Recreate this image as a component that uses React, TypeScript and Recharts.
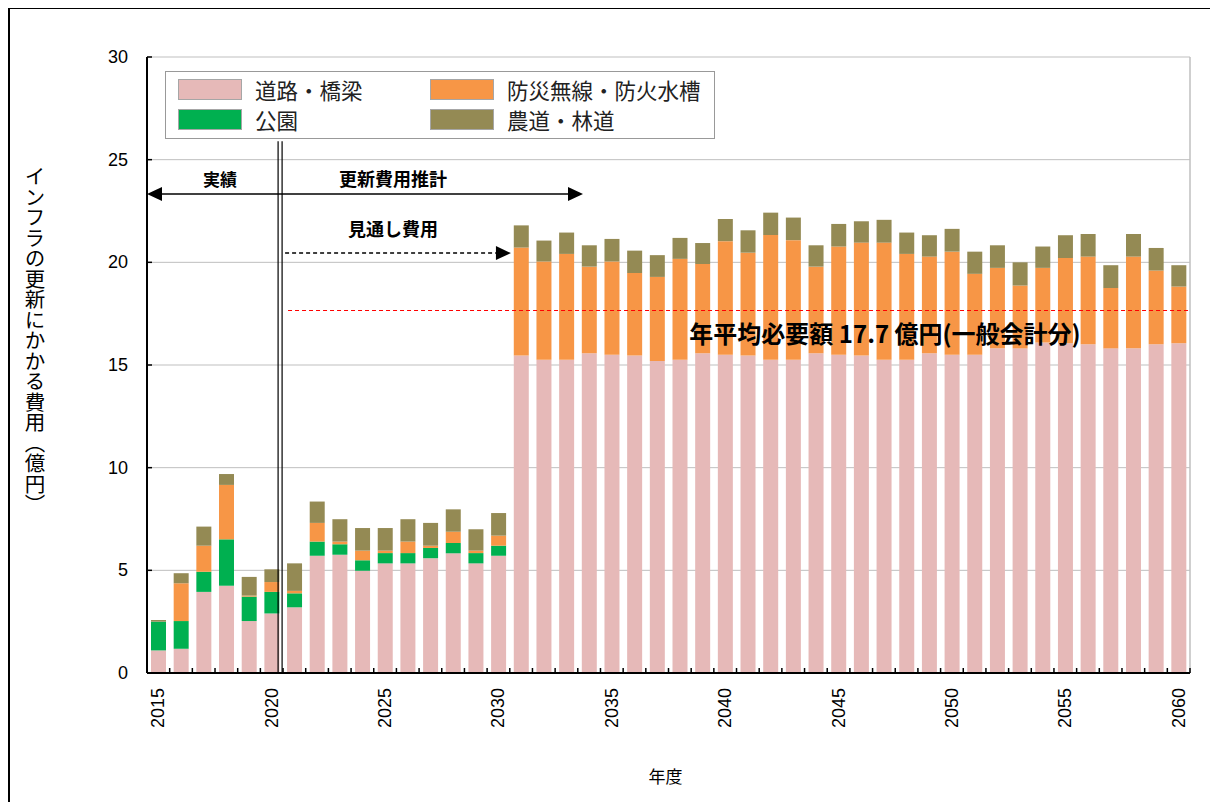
import React from 'react';
import {
  BarChart, Bar, XAxis, YAxis, CartesianGrid, Legend, ReferenceLine, ReferenceDot,
} from 'recharts';

const years = [
  '2015', '2016', '2017', '2018', '2019', '2020', '2021', '2022', '2023', '2024',
  '2025', '2026', '2027', '2028', '2029', '2030', '2031', '2032', '2033', '2034',
  '2035', '2036', '2037', '2038', '2039', '2040', '2041', '2042', '2043', '2044',
  '2045', '2046', '2047', '2048', '2049', '2050', '2051', '2052', '2053', '2054',
  '2055', '2056', '2057', '2058', '2059', '2060',
];

// 道路・橋梁
const road = [
  1.1, 1.18, 3.95, 4.25, 2.53, 2.9, 3.2, 5.71, 5.76, 4.98,
  5.34, 5.34, 5.59, 5.83, 5.34, 5.71, 15.46, 15.26, 15.26, 15.57,
  15.5, 15.46, 15.2, 15.26, 15.57, 15.5, 15.46, 15.26, 15.26, 15.57,
  15.5, 15.46, 15.26, 15.26, 15.57, 15.5, 15.5, 15.81, 15.81, 16.1,
  16.06, 16.01, 15.81, 15.81, 16.01, 16.06,
];

// 公園
const park = [
  1.4, 1.35, 0.98, 2.26, 1.19, 1.05, 0.68, 0.69, 0.51, 0.51,
  0.5, 0.5, 0.5, 0.5, 0.5, 0.49, 0, 0, 0, 0,
  0, 0, 0, 0, 0, 0, 0, 0, 0, 0,
  0, 0, 0, 0, 0, 0, 0, 0, 0, 0,
  0, 0, 0, 0, 0, 0,
];

// 防災無線・防火水槽
const disaster = [
  0, 1.84, 1.27, 2.65, 0.05, 0.48, 0.12, 0.91, 0.13, 0.47,
  0.12, 0.56, 0.11, 0.55, 0.12, 0.49, 5.26, 4.78, 5.15, 4.22,
  4.54, 4.02, 4.09, 4.91, 4.35, 5.53, 5.01, 6.07, 5.82, 4.22,
  5.27, 5.5, 5.7, 5.15, 4.71, 5.02, 3.94, 3.92, 3.06, 3.63,
  4.15, 4.27, 2.94, 4.47, 3.59, 2.76,
];

// 農道・林道
const farm = [
  0.08, 0.49, 0.93, 0.53, 0.91, 0.62, 1.34, 1.04, 1.09, 1.1,
  1.1, 1.09, 1.11, 1.09, 1.04, 1.1, 1.08, 1.02, 1.04, 1.04,
  1.1, 1.09, 1.06, 1.02, 1.02, 1.08, 1.09, 1.09, 1.1, 1.04,
  1.1, 1.04, 1.11, 1.04, 1.04, 1.11, 1.08, 1.1, 1.13, 1.04,
  1.11, 1.1, 1.11, 1.1, 1.1, 1.04,
];

const yTicks = [0, 5, 10, 15, 20, 25, 30];
const labelYears = ['2015', '2020', '2025', '2030', '2035', '2040', '2045', '2050', '2055', '2060'];
const average = 17.7;

const series = [
  { key: 'road', name: '道路・橋梁', color: '#E6B9B8' },
  { key: 'park', name: '公園', color: '#00B050' },
  { key: 'disaster', name: '防災無線・防火水槽', color: '#F79646' },
  { key: 'farm', name: '農道・林道', color: '#948A54' },
];

const data = years.map((year, i) => ({
  year,
  road: road[i],
  park: park[i],
  disaster: disaster[i],
  farm: farm[i],
}));

const JP = '"Noto Sans CJK JP", "Noto Sans", sans-serif';
const NUM = '"Liberation Sans", Arial, sans-serif';

const W = 1202;
const H = 794;
const LEFT = 139;
const RIGHT = 20;
const BAND = (W - LEFT - RIGHT) / years.length;

const XTick = (props: any) => {
  const { x, y, payload, index } = props;
  const half = BAND / 2;
  const last = index === years.length - 1;
  return (
    <g>
      <line x1={x - half} y1={y} x2={x - half} y2={y - 5} stroke="#000" strokeWidth={1.5} />
      {last && <line x1={x + half} y1={y} x2={x + half} y2={y - 5} stroke="#000" strokeWidth={1.5} />}
      {labelYears.includes(payload.value) && (
        <text
          transform={`translate(${x},${y + 15}) rotate(-90)`}
          textAnchor="end"
          dominantBaseline="central"
          fontSize={18}
          fontFamily={NUM}
          fill="#000"
        >
          {payload.value}
        </text>
      )}
    </g>
  );
};

const YTick = (props: any) => {
  const { x, y, payload } = props;
  const axisX = x + 19;
  return (
    <g>
      <line x1={axisX} y1={y} x2={axisX + 5} y2={y} stroke="#000" strokeWidth={1.5} />
      <text x={x} y={y} textAnchor="end" dominantBaseline="central" fontSize={18} fontFamily={NUM} fill="#000">
        {payload.value}
      </text>
    </g>
  );
};

// shifts are in fractions of one category band
const arrow = (s1: number, s2: number, dash?: string, both?: boolean) => (p: any) => {
  const x1 = p.x1 + s1 * BAND;
  const x2 = p.x2 + s2 * BAND;
  const { y1, y2 } = p;
  const head = 15;
  const hw = 7;
  return (
    <g>
      <line
        x1={both ? x1 + head : x1}
        y1={y1}
        x2={x2 - head}
        y2={y2}
        stroke="#000"
        strokeWidth={1.5}
        strokeDasharray={dash}
      />
      <polygon points={`${x2},${y2} ${x2 - head},${y2 - hw} ${x2 - head},${y2 + hw}`} fill="#000" />
      {both && <polygon points={`${x1},${y1} ${x1 + head},${y1 - hw} ${x1 + head},${y1 + hw}`} fill="#000" />}
    </g>
  );
};

const avgLine = (s1: number, s2: number) => (p: any) => {
  const y = Math.round(p.y1) + 0.5;
  return (
    <path
      d={`M${p.x1 + s1 * BAND},${y}H${p.x2 + s2 * BAND}`}
      fill="none"
      stroke="#FF0000"
      strokeWidth={1.2}
      strokeDasharray="4 3"
    />
  );
};

const doubleLine = (s: number) => (p: any) => {
  const x = p.x1 + s * BAND;
  return (
    <g>
      <line x1={x - 2} y1={p.y1} x2={x - 2} y2={p.y2} stroke="#000" strokeWidth={1.2} />
      <line x1={x + 2} y1={p.y1} x2={x + 2} y2={p.y2} stroke="#000" strokeWidth={1.2} />
    </g>
  );
};

const note = (text: string, size: number, s: number) => (p: any) => (
  <text
    x={p.cx + s * BAND}
    y={p.cy}
    textAnchor="middle"
    dominantBaseline="central"
    fontSize={size}
    fontWeight="bold"
    fontFamily={JP}
    fill="#000"
  >
    {text}
  </text>
);

const LegendBox = (props: any) => {
  const payload = [...(props.payload || [])].sort(
    (a: any, b: any) => series.findIndex((s) => s.name === a.value) - series.findIndex((s) => s.name === b.value),
  );
  return (
    <div
      style={{
        boxSizing: 'border-box',
        width: 550,
        height: 68,
        border: '1px solid #999',
        background: '#fff',
        display: 'grid',
        gridTemplateRows: '30px 30px',
        gridTemplateColumns: '252px 280px',
        gridAutoFlow: 'column',
        padding: '2px 0 0 12px',
      }}
    >
      {payload.map((item: any) => (
        <div key={item.value} style={{ display: 'flex', alignItems: 'center' }}>
          <span
            style={{
              display: 'inline-block',
              width: 64,
              height: 21,
              background: item.color,
              border: '1px solid #a6a6a6',
              boxSizing: 'border-box',
              marginRight: 13,
            }}
          />
          <span style={{ fontFamily: JP, fontSize: 21.5, color: '#222' }}>{item.value}</span>
        </div>
      ))}
    </div>
  );
};

export default function App() {
  return (
    <div style={{ position: 'relative', width: W, height: H }}>
      <div
        style={{
          position: 'absolute',
          left: 0,
          top: -1,
          width: W,
          height: H + 1,
          borderLeft: '2px solid #000',
          borderTop: '2px solid #000',
          boxSizing: 'border-box',
          pointerEvents: 'none',
        }}
      />
      <BarChart
        width={W}
        height={H}
        data={data}
        margin={{ top: 49, right: RIGHT, left: 0, bottom: 0 }}
        barSize={15}
      >
        <CartesianGrid vertical={false} stroke="#bfbfbf" />
        <XAxis
          dataKey="year"
          interval={0}
          height={129}
          tickSize={0}
          tickMargin={0}
          tickLine={false}
          tick={<XTick />}
          axisLine={{ stroke: '#000', strokeWidth: 2 }}
          label={(p: any) => {
            const vb = p.viewBox;
            return (
              <text x={vb.x + vb.width / 2 - 3} y={vb.y + 102} textAnchor="middle" dominantBaseline="central" fontSize={17} fontFamily={JP} fill="#000">
                年度
              </text>
            );
          }}
        />
        <YAxis
          domain={[0, 30]}
          ticks={yTicks}
          width={LEFT}
          tickSize={0}
          tickMargin={19}
          tickLine={false}
          tick={<YTick />}
          axisLine={{ stroke: '#000', strokeWidth: 2 }}
          label={(p: any) => {
            const vb = p.viewBox;
            return (
              <text
                x={vb.x + 27}
                y={158}
                fontSize={20.5}
                fontFamily={JP}
                fill="#000"
                style={{ writingMode: 'vertical-rl' }}
              >
                インフラの更新にかかる費用（億円）
              </text>
            );
          }}
        />
        <Legend
          layout="vertical"
          align="center"
          verticalAlign="middle"
          wrapperStyle={{ left: 157, top: 63, width: 550, height: 68 }}
          content={<LegendBox />}
        />
        {series.map((s) => (
          <Bar key={s.key} dataKey={s.key} name={s.name} stackId="a" fill={s.color} isAnimationActive={false} />
        ))}
        <ReferenceLine x="2060" position="end" stroke="#bfbfbf" strokeWidth={1.5} />
        <ReferenceLine
          position="start"
          stroke="#FF0000"
          segment={[{ x: '2021', y: average }, { x: '2060', y: average }]}
          shape={avgLine(0.22, 1)}
        />
        <ReferenceLine
          position="start"
          segment={[{ x: '2021', y: 0 }, { x: '2021', y: 25.9 }]}
          shape={doubleLine(-0.13)}
        />
        <ReferenceLine
          position="start"
          segment={[{ x: '2015', y: 23.33 }, { x: '2034', y: 23.33 }]}
          shape={arrow(0, 0.23, undefined, true)}
        />
        <ReferenceLine
          position="start"
          segment={[{ x: '2021', y: 20.45 }, { x: '2031', y: 20.45 }]}
          shape={arrow(0.09, 0.05, '4 3')}
        />
        <ReferenceDot x="2018" y={24.1} r={0} shape={note('実績', 17, -0.28)} />
        <ReferenceDot x="2025" y={24.1} r={0} shape={note('更新費用推計', 18, 0.35)} />
        <ReferenceDot x="2025" y={21.65} r={0} shape={note('見通し費用', 18, 0.35)} />
        <ReferenceDot x="2047" y={16.56} r={0} shape={note('年平均必要額 17.7 億円(一般会計分)', 24, 0.05)} />
      </BarChart>
    </div>
  );
}
